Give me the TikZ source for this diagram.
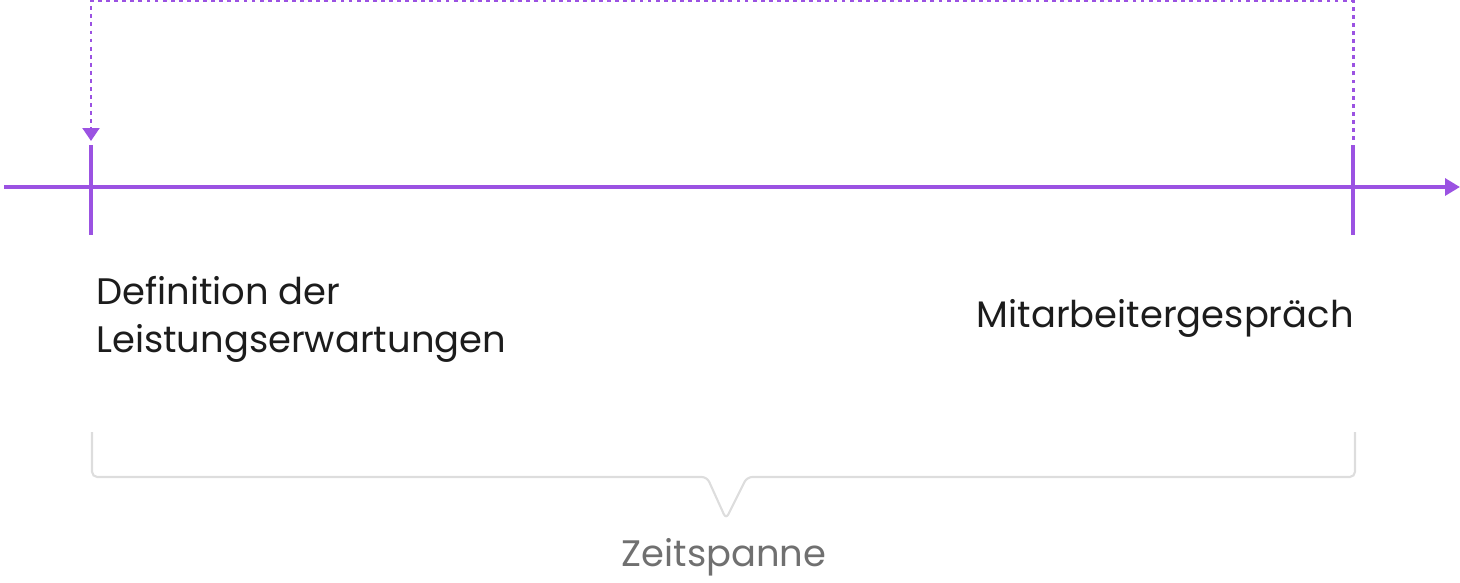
\documentclass[tikz,border=0pt]{standalone}
\usepackage{fontspec}
\setmainfont{Poppins}
\usetikzlibrary{arrows.meta}
\definecolor{lila}{RGB}{155,82,226}
\definecolor{klammer}{RGB}{221,221,221}
\definecolor{textgrau}{RGB}{112,112,112}
\definecolor{textdunkel}{RGB}{28,28,28}
\tikzset{
  achse/.style={lila, line width=2.5pt},
  marke/.style={lila, line width=2.5pt},
  rueck/.style={lila, line width=1.7pt, dash pattern=on 2.2pt off 2.4pt},
  klammerlinie/.style={klammer, line width=1.2pt, rounded corners=3pt},
  label/.style={textdunkel, font=\fontsize{21}{27}\selectfont, inner sep=0pt, align=left},
}
\begin{document}
\begin{tikzpicture}[x=0.02cm,y=-0.02cm]
\useasboundingbox (0,0) rectangle (1460,582);

% Zeitachse
\coordinate (anfang) at (4,187);
\coordinate (ende) at (1460,187);
\draw[achse,-{Triangle[length=8.5pt,width=9.5pt]}] (anfang) -- (ende);

% Marken
\coordinate (m1o) at (91,145);
\coordinate (m1u) at (91,235);
\coordinate (m2o) at (1353,145);
\coordinate (m2u) at (1353,235);
\draw[marke] (m1o) -- (m1u);
\draw[marke] (m2o) -- (m2u);

% Rueckkopplung
\coordinate (oben) at (0,1);
\coordinate (r2) at (1353,140);
\coordinate (r1) at (91,141);
\draw[rueck,-{Triangle[length=7.4pt,width=9.5pt]}] (r2) -- (r2 |- oben) -- (r1 |- oben) -- (r1);

\node[label,anchor=base west] (definition) at (96,352) {Definition der\\Leistungserwartungen};
\node[label,anchor=base east] (gespraech) at (1354,327) {Mitarbeitergespräch};

% Klammer
\coordinate (k1) at (92,432);
\coordinate (k2) at (1355,432);
\coordinate (spitze) at (726,519);
\draw[klammerlinie] (k1) -- (92,477) -- (707,477) -- (spitze) -- (747,477) -- (1355,477) -- (k2);

\node[label,textgrau,anchor=base] (zeit) at (724,566) {Zeitspanne};
\end{tikzpicture}
\end{document}
